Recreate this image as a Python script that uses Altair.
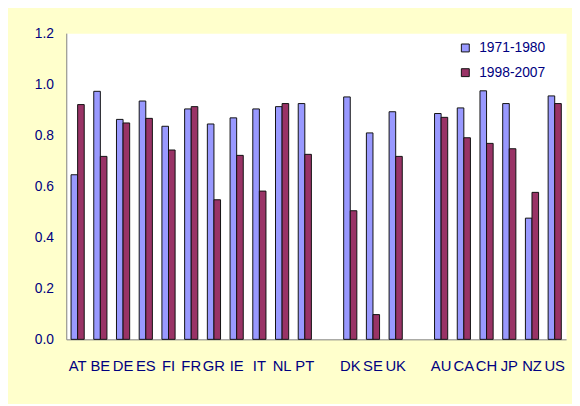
import altair as alt
import pandas as pd

countries = ["AT", "BE", "DE", "ES", "FI", "FR", "GR", "IE", "IT", "NL", "PT",
             "DK", "SE", "UK",
             "AU", "CA", "CH", "JP", "NZ", "US"]
v_1971_1980 = [0.645, 0.972, 0.862, 0.934, 0.835, 0.903, 0.844, 0.868, 0.903, 0.912, 0.924,
               0.950, 0.809, 0.892,
               0.885, 0.907, 0.974, 0.924, 0.475, 0.954]
v_1998_2007 = [0.920, 0.717, 0.848, 0.866, 0.742, 0.912, 0.547, 0.721, 0.581, 0.924, 0.725,
               0.504, 0.097, 0.717,
               0.870, 0.790, 0.768, 0.747, 0.576, 0.924]
periods = ["1971-1980", "1998-2007"]
colors = ["#9999FF", "#993366"]
y_ticks = [0.0, 0.2, 0.4, 0.6, 0.8, 1.0, 1.2]

# x domain with two blank slots separating the country groups
domain = countries[:11] + [" "] + countries[11:14] + ["  "] + countries[14:]

rows = []
for c, a, b in zip(countries, v_1971_1980, v_1998_2007):
    rows.append({"country": c, "period": periods[0], "value": a})
    rows.append({"country": c, "period": periods[1], "value": b})
df = pd.DataFrame(rows)

navy = "#000080"

chart = alt.Chart(df).mark_bar(stroke="#111111", strokeWidth=1).encode(
    x=alt.X("country:N",
            scale=alt.Scale(domain=domain, paddingInner=0.42, paddingOuter=0.21),
            axis=alt.Axis(title=None, labelAngle=0, ticks=False, domainColor="#808080",
                          labelColor=navy, labelFont="Liberation Sans Narrow, Liberation Sans",
                          labelFontSize=15, labelPadding=20)),
    xOffset=alt.XOffset("period:N", scale=alt.Scale(domain=periods, paddingInner=0, paddingOuter=0)),
    y=alt.Y("value:Q",
            scale=alt.Scale(domain=[0, 1.2], nice=False),
            axis=alt.Axis(title=None, values=y_ticks, format=".1f", ticks=False, grid=False,
                          domainColor="#808080", labelColor=navy, labelFont="Liberation Sans",
                          labelFontSize=14, labelPadding=13)),
    color=alt.Color("period:N",
                    scale=alt.Scale(domain=periods, range=colors),
                    legend=alt.Legend(title=None, orient="none", legendX=397, legendY=8,
                                      symbolType="square", symbolSize=64,
                                      symbolStrokeColor="#111111", symbolStrokeWidth=1,
                                      labelColor=navy, labelFont="Liberation Sans",
                                      labelFontSize=14, rowPadding=11, labelOffset=7)),
).properties(
    width=506,
    height=310,
    background="#FFFFCC",
    padding={"left": 59, "top": 23, "right": 6, "bottom": 63},
    autosize=alt.AutoSizeParams(type="none"),
).configure_view(fill="white", stroke="transparent")

chart.save("out.html", embed_options={"renderer": "svg", "actions": False})
